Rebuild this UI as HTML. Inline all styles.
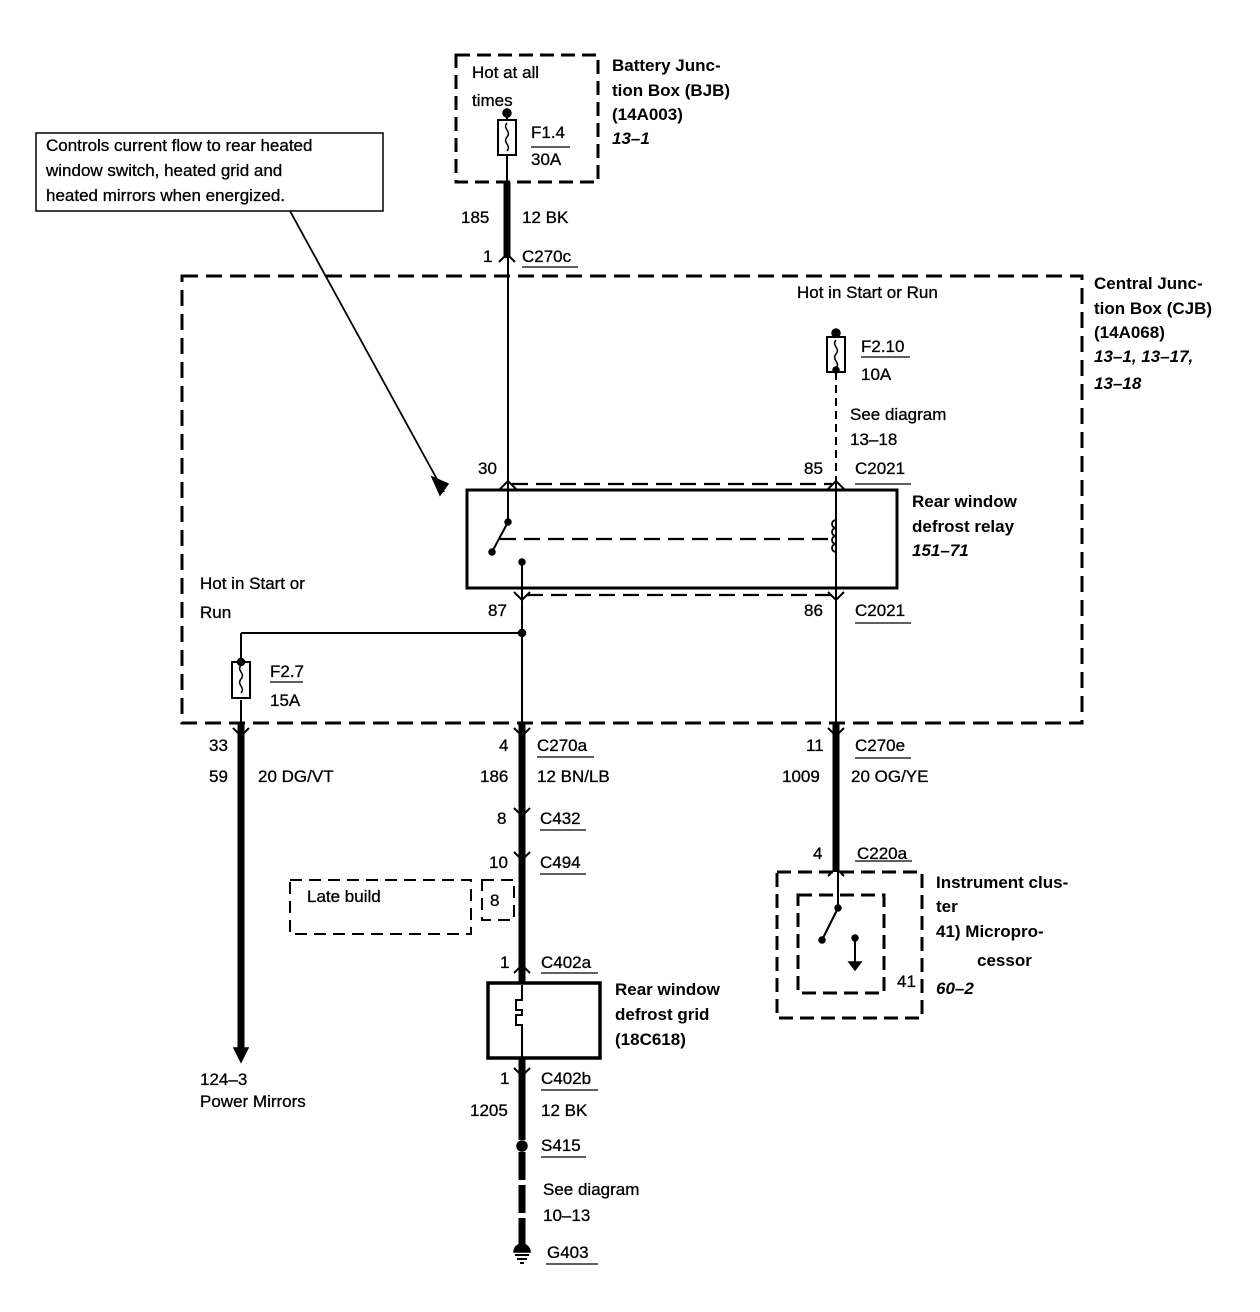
<!DOCTYPE html>
<html><head><meta charset="utf-8"><style>
html,body{margin:0;padding:0;background:#fff}
svg{display:block}
text{font-family:"Liberation Sans",Arial,sans-serif;font-size:17px;fill:#000;stroke:#000;stroke-width:0.3}
.b{font-weight:bold;stroke-width:0}
.i{font-weight:bold;font-style:italic;stroke-width:0}
</style></head><body>
<svg width="1260" height="1312" viewBox="0 0 1260 1312" xmlns="http://www.w3.org/2000/svg">
<g fill="none" stroke="#000">
<rect x="456" y="55" width="142" height="127" stroke-width="3" stroke-dasharray="14,7"/>
<rect x="36" y="133" width="347" height="78" stroke-width="1.5"/>
<line x1="290" y1="211" x2="444" y2="492" stroke-width="1.8"/>
<rect x="182" y="276" width="900" height="447" stroke-width="3" stroke-dasharray="16,8"/>
<rect x="467" y="490" width="430" height="98" stroke-width="3"/>
<line x1="507" y1="110" x2="507" y2="120" stroke-width="2"/>
<line x1="507" y1="155" x2="507" y2="182" stroke-width="2"/>
<line x1="508" y1="258" x2="508" y2="522" stroke-width="2"/>
<line x1="508" y1="522" x2="492" y2="552" stroke-width="2"/>
<line x1="522" y1="562" x2="522" y2="723" stroke-width="2"/>
<line x1="241" y1="633" x2="522" y2="633" stroke-width="2"/>
<line x1="241" y1="633" x2="241" y2="660" stroke-width="2"/>
<line x1="241" y1="700" x2="241" y2="723" stroke-width="2"/>
<line x1="836" y1="333" x2="836" y2="337" stroke-width="2"/>
<line x1="836" y1="372" x2="836" y2="480" stroke-width="2" stroke-dasharray="8,5"/>
<line x1="836" y1="480" x2="836" y2="723" stroke-width="2"/>
<line x1="512" y1="484" x2="832" y2="484" stroke-width="2.2" stroke-dasharray="16,8"/>
<line x1="527" y1="595" x2="832" y2="595" stroke-width="2.2" stroke-dasharray="16,8"/>
<line x1="500" y1="539" x2="832" y2="539" stroke-width="2.2" stroke-dasharray="16,8"/>
<path d="M836 520 a4 4 0 0 0 0 8 a4 4 0 0 0 0 8 a4 4 0 0 0 0 8 a4 4 0 0 0 0 8" stroke-width="1.8"/>
<rect x="498" y="120" width="18" height="35" stroke-width="2"/>
<path d="M507 123 c-5 6 5 8 0 14 c-5 6 5 8 0 14" stroke-width="1.5"/>
<rect x="827" y="337" width="18" height="35" stroke-width="2"/>
<path d="M836 340 c-5 6 5 8 0 14 c-5 6 5 8 0 14" stroke-width="1.5"/>
<rect x="232" y="662" width="18" height="36" stroke-width="2"/>
<path d="M241 665 c-5 6 5 8 0 14 c-5 6 5 8 0 14" stroke-width="1.5"/>
<line x1="507" y1="182" x2="507" y2="258" stroke-width="7"/>
<line x1="241" y1="723" x2="241" y2="1050" stroke-width="7"/>
<line x1="522" y1="723" x2="522" y2="983" stroke-width="7"/>
<line x1="522" y1="1058" x2="522" y2="1140" stroke-width="7"/>
<line x1="522" y1="1152" x2="522" y2="1245" stroke-width="7" stroke-dasharray="28,5"/>
<line x1="836" y1="723" x2="836" y2="872" stroke-width="7"/>
<rect x="290" y="880" width="181" height="54" stroke-width="2" stroke-dasharray="12,7"/>
<rect x="482" y="880" width="32" height="40" stroke-width="2" stroke-dasharray="12,7"/>
<rect x="488" y="983" width="112" height="75" stroke-width="3.5"/>
<path d="M522 985 v15 h-6 v10 h6 v5 h-6 v10 h6 v33" stroke-width="2"/>
<rect x="777" y="872" width="145" height="146" stroke-width="3" stroke-dasharray="14,7"/>
<rect x="798" y="895" width="86" height="98" stroke-width="3" stroke-dasharray="14,7"/>
<line x1="838" y1="872" x2="838" y2="908" stroke-width="2"/>
<line x1="838" y1="908" x2="822" y2="940" stroke-width="2"/>
<line x1="855" y1="938" x2="855" y2="962" stroke-width="2"/>
</g>
<g fill="#000" stroke="#000" stroke-width="1.5">
<polygon points="440,495 432,477 448,484"/>
<polygon points="234,1062 248,1062 241,1048" transform="rotate(180 241 1055)"/>
<path d="M500 489 l8 -8 l8 8" fill="none" stroke-width="2"/>
<path d="M828 489 l8 -8 l8 8" fill="none" stroke-width="2"/>
<path d="M514 592 l8 8 l8 -8" fill="none" stroke-width="2"/>
<path d="M828 592 l8 8 l8 -8" fill="none" stroke-width="2"/>
<path d="M514 728 l8 8 l8 -8" fill="none" stroke-width="2"/>
<path d="M233 728 l8 8 l8 -8" fill="none" stroke-width="2"/>
<path d="M828 728 l8 8 l8 -8" fill="none" stroke-width="2"/>
<path d="M499 262 l8 -8 l8 8" fill="none" stroke-width="2"/>
<path d="M514 808 l8 8 l8 -8" fill="none" stroke-width="2"/>
<path d="M514 852 l8 8 l8 -8" fill="none" stroke-width="2"/>
<path d="M514 973 l8 -8 l8 8" fill="none" stroke-width="2"/>
<path d="M514 1068 l8 8 l8 -8" fill="none" stroke-width="2"/>
<path d="M828 876 l8 -8 l8 8" fill="none" stroke-width="2"/>
<circle cx="507" cy="113" r="4"/>
<circle cx="836" cy="333" r="4"/>
<circle cx="241" cy="662" r="3.5"/>
<circle cx="508" cy="522" r="3"/>
<circle cx="492" cy="552" r="3"/>
<circle cx="522" cy="562" r="3"/>
<circle cx="522" cy="633" r="3.5"/>
<circle cx="836" cy="370" r="3"/>
<circle cx="522" cy="1146" r="5"/>
<circle cx="838" cy="908" r="3"/>
<circle cx="822" cy="940" r="3"/>
<circle cx="855" cy="938" r="3"/>
<polygon points="849,962 861,962 855,970"/>
<line x1="515" y1="1255" x2="529" y2="1255" stroke-width="2"/>
<line x1="517" y1="1259" x2="527" y2="1259" stroke-width="2"/>
<line x1="520" y1="1263" x2="524" y2="1263" stroke-width="2"/>
<path d="M514 1252 a8 8 0 0 1 16 0 z"/>
</g>
<g stroke="#000" stroke-width="1.2">
<line x1="531" y1="147" x2="570" y2="147"/>
<line x1="522" y1="267" x2="578" y2="267"/>
<line x1="861" y1="357" x2="910" y2="357"/>
<line x1="855" y1="484" x2="911" y2="484"/>
<line x1="855" y1="623" x2="911" y2="623"/>
<line x1="270" y1="682" x2="303" y2="682"/>
<line x1="537" y1="757" x2="594" y2="757"/>
<line x1="540" y1="830" x2="586" y2="830"/>
<line x1="540" y1="874" x2="586" y2="874"/>
<line x1="541" y1="973" x2="598" y2="973"/>
<line x1="541" y1="1090" x2="598" y2="1090"/>
<line x1="541" y1="1157" x2="586" y2="1157"/>
<line x1="546" y1="1264" x2="598" y2="1264"/>
<line x1="855" y1="861" x2="912" y2="861"/>
<line x1="855" y1="758" x2="911" y2="758"/>
</g>
<text x="472" y="78">Hot at all</text>
<text x="472" y="106">times</text>
<text x="531" y="138">F1.4</text>
<text x="531" y="165">30A</text>
<text class="b" x="612" y="71">Battery Junc-</text>
<text class="b" x="612" y="96">tion Box (BJB)</text>
<text class="b" x="612" y="120">(14A003)</text>
<text class="i" x="612" y="144">13–1</text>
<text x="46" y="151">Controls current flow to rear heated</text>
<text x="46" y="176">window switch, heated grid and</text>
<text x="46" y="201">heated mirrors when energized.</text>
<text x="461" y="223">185</text>
<text x="522" y="223">12 BK</text>
<text x="483" y="262">1</text>
<text x="522" y="262">C270c</text>
<text class="b" x="1094" y="289">Central Junc-</text>
<text class="b" x="1094" y="314">tion Box (CJB)</text>
<text class="b" x="1094" y="338">(14A068)</text>
<text class="i" x="1094" y="362">13–1, 13–17,</text>
<text class="i" x="1094" y="389">13–18</text>
<text x="797" y="298">Hot in Start or Run</text>
<text x="861" y="352">F2.10</text>
<text x="861" y="380">10A</text>
<text x="850" y="420">See diagram</text>
<text x="850" y="445">13–18</text>
<text x="478" y="474">30</text>
<text x="804" y="474">85</text>
<text x="855" y="474">C2021</text>
<text class="b" x="912" y="507">Rear window</text>
<text class="b" x="912" y="532">defrost relay</text>
<text class="i" x="912" y="556">151–71</text>
<text x="200" y="589">Hot in Start or</text>
<text x="200" y="618">Run</text>
<text x="488" y="616">87</text>
<text x="804" y="616">86</text>
<text x="855" y="616">C2021</text>
<text x="270" y="677">F2.7</text>
<text x="270" y="706">15A</text>
<text x="209" y="751">33</text>
<text x="209" y="782">59</text>
<text x="258" y="782">20 DG/VT</text>
<text x="499" y="751">4</text>
<text x="537" y="751">C270a</text>
<text x="480" y="782">186</text>
<text x="537" y="782">12 BN/LB</text>
<text x="806" y="751">11</text>
<text x="855" y="751">C270e</text>
<text x="782" y="782">1009</text>
<text x="851" y="782">20 OG/YE</text>
<text x="497" y="824">8</text>
<text x="540" y="824">C432</text>
<text x="489" y="868">10</text>
<text x="540" y="868">C494</text>
<text x="307" y="902">Late build</text>
<text x="490" y="906">8</text>
<text x="813" y="859">4</text>
<text x="857" y="859">C220a</text>
<text class="b" x="936" y="888">Instrument clus-</text>
<text class="b" x="936" y="912">ter</text>
<text class="b" x="936" y="937">41)  Micropro-</text>
<text class="b" x="977" y="966">cessor</text>
<text class="i" x="936" y="994">60–2</text>
<text x="897" y="987">41</text>
<text x="500" y="968">1</text>
<text x="541" y="968">C402a</text>
<text class="b" x="615" y="995">Rear window</text>
<text class="b" x="615" y="1020">defrost grid</text>
<text class="b" x="615" y="1045">(18C618)</text>
<text x="500" y="1084">1</text>
<text x="541" y="1084">C402b</text>
<text x="470" y="1116">1205</text>
<text x="541" y="1116">12 BK</text>
<text x="541" y="1151">S415</text>
<text x="543" y="1195">See diagram</text>
<text x="543" y="1221">10–13</text>
<text x="547" y="1258">G403</text>
<text x="200" y="1085">124–3</text>
<text x="200" y="1107">Power Mirrors</text>
</svg>
</body></html>
